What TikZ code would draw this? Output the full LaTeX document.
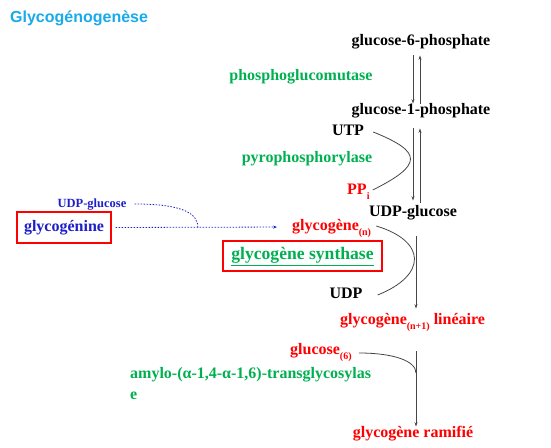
\documentclass[tikz,border=0pt]{standalone}
\usepackage{fontspec}
\setmainfont{Liberation Serif}
\newfontfamily\titlefont{Liberation Sans}
\usetikzlibrary{arrows.meta}
\definecolor{titre}{RGB}{25,170,235}
\definecolor{enzyme}{RGB}{0,176,80}
\definecolor{rouge}{RGB}{255,0,0}
\definecolor{bleu}{RGB}{30,30,200}
\definecolor{trait}{RGB}{70,70,70}
\tikzset{
  every mol/.style={inner sep=0pt,text height=11pt,text depth=3.5pt,
    font=\fontsize{16}{21}\selectfont\bfseries},
  mol/.style={every mol},
  enz/.style={every mol,text=enzyme},
  prod/.style={every mol,text=rouge},
  fleche/.style={draw=trait,line width=.8pt,-{Stealth[length=4.5pt,width=3pt]}},
  courbe/.style={draw=trait,line width=.8pt},
  pointille/.style={draw=bleu,line width=.8pt,dash pattern=on 1.5pt off 1.5pt},
  cadre/.style={draw=rouge,line width=1.2pt},
}
\newcommand\indice[1]{\raisebox{-5pt}{\fontsize{10}{10}\selectfont #1}}

\begin{document}
\begin{tikzpicture}[x=1pt,y=-1pt]
\useasboundingbox (0,0) rectangle (551,447);
\node[anchor=west,inner sep=0pt,text=titre,font=\titlefont\fontsize{16}{18}\selectfont\bfseries]
  (titre) at (10,18) {Glycogénogenèse};
% voie principale
\node[mol] (g6p) at (421,42) {glucose-6-phosphate};
\node[mol] (g1p) at (421,111) {glucose-1-phosphate};
\node[mol] (udpg) at (413,213) {UDP-glucose};
\node[prod,anchor=west] (lin) at (340,321) {glycogène\indice{(n+1)} linéaire};
\node[prod] (ram) at (413,434) {glycogène ramifié};
% enzymes
\node[enz] (pgm) at (301,77) {phosphoglucomutase};
\node[enz] (ppr) at (307,159) {pyrophosphorylase};
\node[enz,cadre,minimum width=159pt,minimum height=30pt,
  font=\fontsize{17.6}{21}\selectfont\bfseries] (syn) at (302.5,256) {\underline{glycogène synthase}};
\node[enz,anchor=west,align=left] (tgl) at (130,396) {amylo-(α-1,4-α-1,6)-transglycosylas\\e};
% cosubstrats
\node[mol] (utp) at (348,132) {UTP};
\node[prod,anchor=west] (ppi) at (347,191) {PP\indice{i}};
\node[prod,anchor=west] (glyn) at (292,227) {glycogène\indice{(n)}};
\node[mol] (udp) at (346,295) {UDP};
\node[prod,anchor=west] (glc) at (290,351) {glucose\indice{(6)}};
% amorce
\node[every mol,text=bleu,cadre,minimum width=94pt,minimum height=31pt] (gnin) at (64,227.5) {glycogénine};
\node[every mol,text=bleu,font=\fontsize{12.5}{14}\selectfont\bfseries] (udpb) at (92,204) {UDP-glucose};
% fleches
\draw[fleche,shorten <=6pt] ([xshift=-8pt]g6p.south) -- ([xshift=-8pt]g1p.north);
\draw[fleche,shorten >=6pt] ([xshift=-1pt]g1p.north) -- ([xshift=-1pt]g6p.south);
\draw[fleche,shorten <=10pt,shorten >=5pt] ([xshift=-8pt]g1p.south) -- ([xshift=-8pt]g1p.south |- udpg.north);
\draw[fleche,shorten <=3pt,shorten >=10pt] ([xshift=-1pt]g1p.south |- udpg.north) -- ([xshift=-1pt]g1p.south);
\draw[fleche,shorten <=16pt,shorten >=5pt] ([xshift=3pt]udpg.south) -- ([xshift=3pt]udpg.south |- lin.north);
\coordinate (j3) at (416,373);
\draw[fleche,shorten <=23pt] ([xshift=3pt]udpg.south |- lin.south) -- ([xshift=3pt]udpg.south |- ram.north);
\draw[courbe] ([xshift=9pt]utp.east) .. controls +(50,20) and +(50,-25) .. ([xshift=3pt,yshift=1pt]ppi.east);
\draw[courbe] ([xshift=5pt,yshift=1pt]glyn.east) .. controls +(50,15) and +(50,-20) .. ([xshift=15pt]udp.east);
\draw[courbe] ([xshift=7pt,yshift=-2pt]glc.east) .. controls +(35,0) and +(0,-12) .. (j3);
% amorcage
\coordinate (j1) at (198,228);
\draw[pointille,-{Stealth[length=4pt,width=3pt]},shorten <=4pt,shorten >=15pt] (gnin.east) -- (glyn.west);
\draw[pointille] ([xshift=8pt]udpb.east) .. controls +(50,0) and +(0,-14) .. (j1);
\end{tikzpicture}
\end{document}
